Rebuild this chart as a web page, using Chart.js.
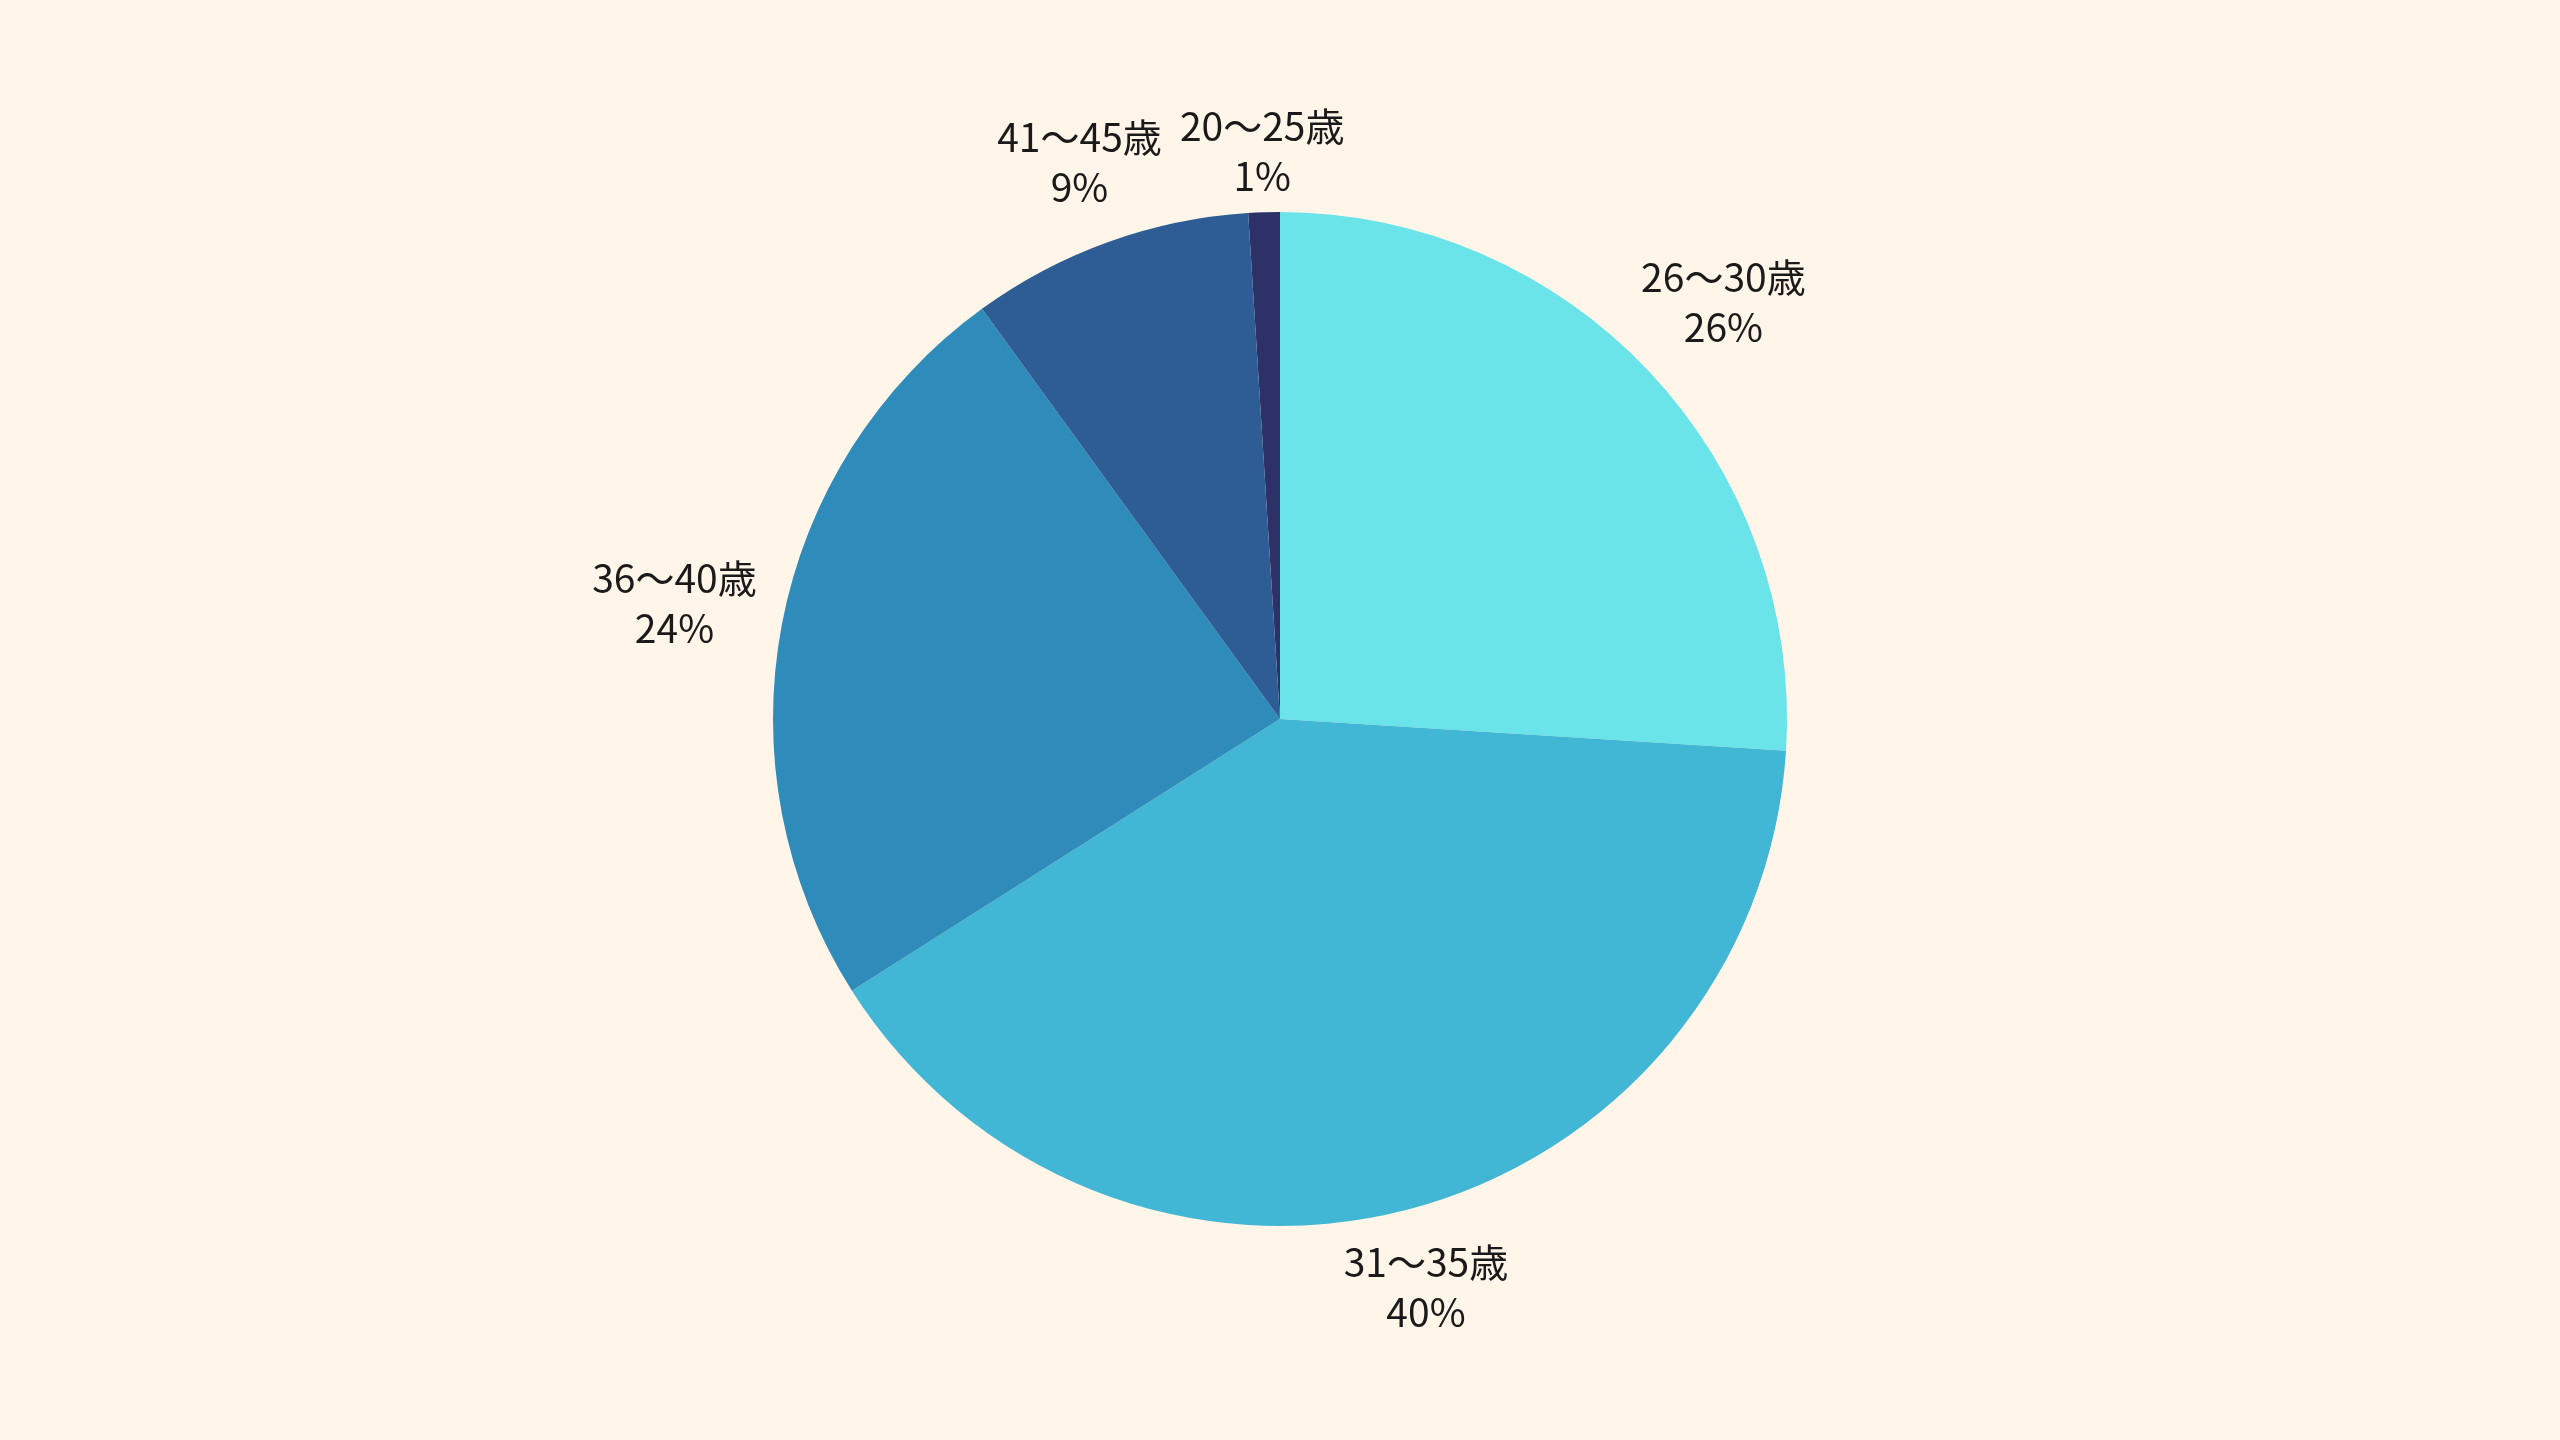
<!DOCTYPE html>
<html lang="ja">
<head>
<meta charset="utf-8">
<title>年齢構成</title>
<script src="https://cdn.jsdelivr.net/npm/chart.js@4.4.1/dist/chart.umd.min.js"></script>
<style>
  html, body { margin: 0; padding: 0; background: #fff5e9; }
  .wrap { width: 2560px; height: 1440px; position: relative; }
</style>
</head>
<body>
<div class="wrap"><canvas id="ageChart"></canvas></div>
<script>
// 年齢層と割合 (%)
const ageLabels = ['20〜25歳', '26〜30歳', '31〜35歳', '36〜40歳', '41〜45歳'];
const ageValues = [1, 26, 40, 24, 9];
const ageColors = ['#2e3168', '#6ae4e8', '#42b6d5', '#2e8bba', '#2e5c94'];

const total = ageValues.reduce((a, b) => a + b, 0);

// 外側ラベル（名前 + %）
const outLabels = {
    id: 'outLabels',
    afterDatasetsDraw(chart) {
        const ctx = chart.ctx;
        const arcs = chart.getDatasetMeta(0).data;
        ctx.save();
        ctx.font = '39px "Noto Sans CJK JP", "Noto Sans", sans-serif';
        ctx.fillStyle = '#1a1a1a';
        ctx.textAlign = 'center';
        ctx.textBaseline = 'middle';
        arcs.forEach((arc, i) => {
            const p = arc.getProps(['x', 'y', 'startAngle', 'endAngle', 'outerRadius'], true);
            const mid = (p.startAngle + p.endAngle) / 2;
            const dist = p.outerRadius + 50 + 60 * Math.sqrt(Math.abs(Math.cos(mid)));
            const cx = p.x + Math.cos(mid) * dist;
            const cy = p.y + Math.sin(mid) * dist;
            const pct = Math.round(ageValues[i] / total * 100) + '%';
            ctx.fillText(ageLabels[i], cx, cy - 25);
            ctx.fillText(pct, cx, cy + 25);
        });
        ctx.restore();
    }
};

new Chart(document.getElementById('ageChart'), {
    type: 'pie',
    data: {
        labels: ageLabels,
        datasets: [{
            data: ageValues,
            backgroundColor: ageColors,
            borderWidth: 0,
            hoverOffset: 0
        }]
    },
    options: {
        responsive: true,
        maintainAspectRatio: false,
        animation: false,
        rotation: -360 * ageValues[0] / total,
        layout: { padding: { top: 212, bottom: 214 } },
        plugins: { legend: { display: false }, tooltip: { enabled: false } }
    },
    plugins: [outLabels]
});
</script>
</body>
</html>
